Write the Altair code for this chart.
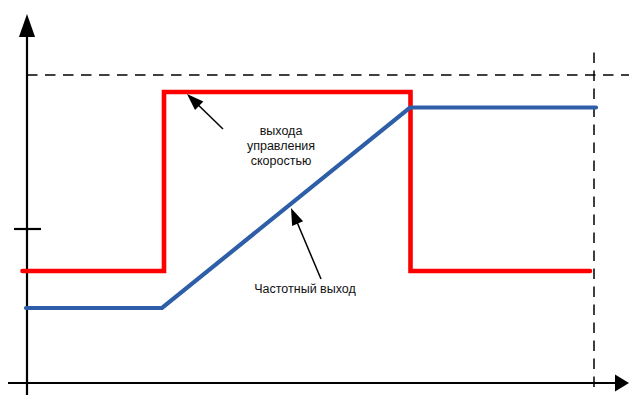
import math
import altair as alt
import pandas as pd

# ---- data (schematic units: origin at the axes crossing) ----
# Red step signal ("выхода управления скоростью")
red_x = [-4.5, 137, 137, 383.5, 383.5, 563]
red_y = [112, 112, 291, 291, 112, 112]
# Blue ramp signal ("Частотный выход")
blue_x = [-1, 135, 383, 569]
blue_y = [75, 75, 275.5, 275.5]

# Reference levels
ref_level = 308      # dashed horizontal line
ref_time = 567       # dashed vertical line
ref_time_top = 333
tick_level = 154     # tick on the y axis

# Annotation texts and arrows (tail -> tip)
label1_lines = ["выхода", "управления", "скоростью"]
label1_x = 254
label1_y = [252, 237, 222]
arrow1_tail = (196, 254)
arrow1_tip = (160, 289)

label2_text = "Частотный выход"
label2_x = 278
label2_y = 94
arrow2_tail = (294, 104)
arrow2_tip = (264, 175)

# ---- scales: one unit = one pixel ----
W, H = 621, 387
xs = alt.Scale(domain=[-19, 602], nice=False, zero=False)
ys = alt.Scale(domain=[-12, 375], nice=False, zero=False)


def X(f):
    return alt.X(f, type="quantitative", scale=xs, axis=None)


def Y(f):
    return alt.Y(f, type="quantitative", scale=ys, axis=None)


# Axes + reference rules
rules = pd.DataFrame([
    # y axis
    dict(x=0, x2=0, y=-20, y2=346),
    # x axis
    dict(x=-20, x2=590, y=0, y2=0),
    # tick
    dict(x=-13, x2=14, y=tick_level, y2=tick_level),
])
dashes = pd.DataFrame([
    dict(x=0, x2=612, y=ref_level, y2=ref_level),
    dict(x=ref_time, x2=ref_time, y=-4, y2=ref_time_top),
])

axis_layer = alt.Chart(rules).mark_rule(color="black", strokeWidth=2.2).encode(
    x=X("x"), x2="x2", y=Y("y"), y2="y2"
)
dash_layer = alt.Chart(dashes).mark_rule(
    color="black", strokeWidth=1.5, strokeDash=[10.5, 7.5]
).encode(x=X("x"), x2="x2", y=Y("y"), y2="y2")

# Axis arrowheads
yhead = alt.Chart(pd.DataFrame({"x": [0], "y": [357.5]})).mark_point(
    shape="M0,-1L0.7,1L-0.7,1Z", size=529, filled=True, color="black",
    opacity=1, strokeWidth=0
).encode(x=X("x"), y=Y("y"))
xhead = alt.Chart(pd.DataFrame({"x": [595], "y": [0]})).mark_point(
    shape="M1,0L-1,-1.2L-1,1.2Z", size=196, filled=True, color="black",
    opacity=1, strokeWidth=0
).encode(x=X("x"), y=Y("y"))

# Signals
red_df = pd.DataFrame({"x": red_x, "y": red_y, "i": range(len(red_x))})
blue_df = pd.DataFrame({"x": blue_x, "y": blue_y, "i": range(len(blue_x))})

red_line = alt.Chart(red_df).mark_line(
    color="#FF0000", strokeWidth=4.6, strokeCap="round", strokeJoin="miter"
).encode(x=X("x"), y=Y("y"), order=alt.Order("i:Q"))
blue_line = alt.Chart(blue_df).mark_line(
    color="#2E5EA8", strokeWidth=4.2, strokeCap="round", strokeJoin="miter"
).encode(x=X("x"), y=Y("y"), order=alt.Order("i:Q"))

# Annotation arrows
HEAD_LEN = 17
arrows = []
heads = []
for tail, tip in [(arrow1_tail, arrow1_tip), (arrow2_tail, arrow2_tip)]:
    dx, dy = tip[0] - tail[0], tip[1] - tail[1]
    L = math.hypot(dx, dy)
    ux, uy = dx / L, dy / L
    cx, cy = tip[0] - ux * HEAD_LEN / 2, tip[1] - uy * HEAD_LEN / 2
    arrows.append(dict(x=tail[0], y=tail[1], x2=cx, y2=cy))
    ang = math.degrees(math.atan2(dx, dy)) % 360
    heads.append(dict(x=cx, y=cy, a=ang))

arrow_lines = alt.Chart(pd.DataFrame(arrows)).mark_rule(
    color="black", strokeWidth=1.5
).encode(x=X("x"), x2="x2", y=Y("y"), y2="y2")
arrow_heads = alt.Chart(pd.DataFrame(heads)).mark_point(
    shape="M0,-1L0.7,1L-0.7,1Z", size=HEAD_LEN ** 2, filled=True,
    color="black", opacity=1, strokeWidth=0
).encode(x=X("x"), y=Y("y"), angle=alt.Angle("a:Q", scale=None))

# Labels
lab_df = pd.DataFrame({
    "t": label1_lines + [label2_text],
    "x": [label1_x] * 3 + [label2_x],
    "y": label1_y + [label2_y],
})
labels = alt.Chart(lab_df).mark_text(
    font="Liberation Sans", fontSize=12.5, color="#111111",
    align="center", baseline="middle"
).encode(x=X("x"), y=Y("y"), text="t:N")

chart = alt.layer(
    dash_layer, axis_layer, yhead, xhead, red_line, blue_line,
    arrow_lines, arrow_heads, labels
).properties(
    width=W, height=H, autosize="none",
    padding={"left": 0, "top": 0, "right": 0, "bottom": 0},
    background="white",
).configure_view(stroke=None)

chart.save("out.html", embed_options={"renderer": "svg", "actions": False})
